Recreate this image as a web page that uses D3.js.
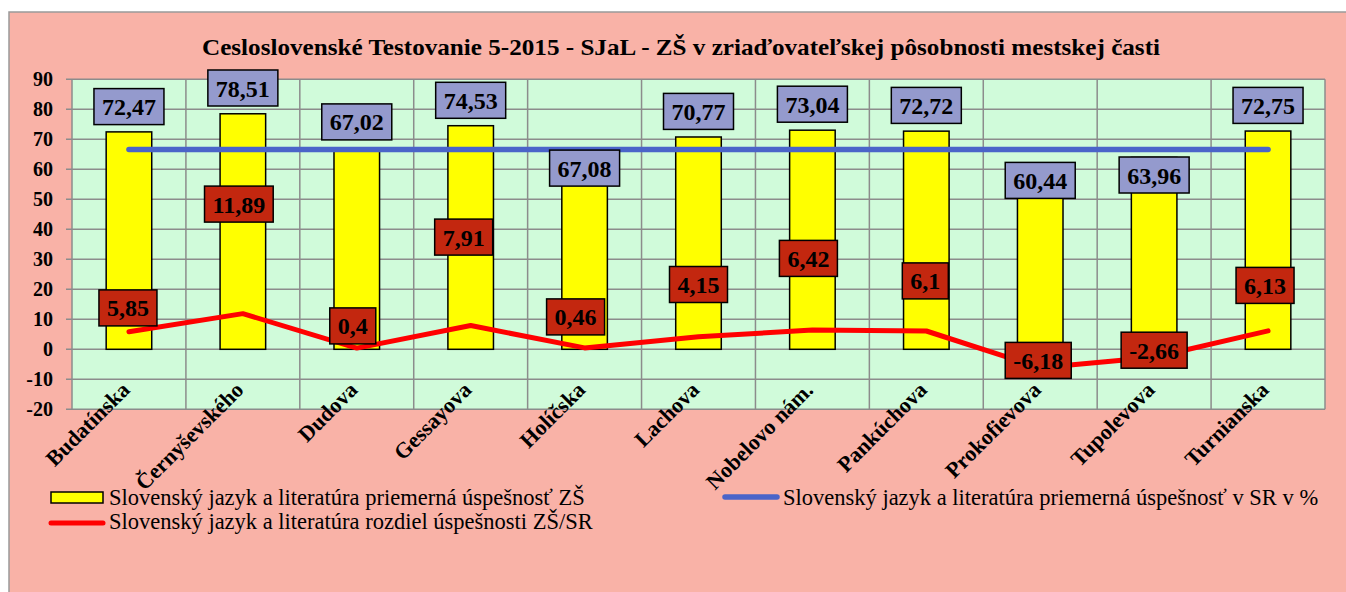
<!DOCTYPE html>
<html>
<head>
<meta charset="utf-8">
<script src="https://cdn.jsdelivr.net/npm/d3@7/dist/d3.min.js"></script>
<style>
	html, body { margin: 0; padding: 0; background: #fff; }
</style>
</head>
<body>
<div id="chart"></div>
<script>
// values
const categories = ["Budatínska", "Černyševského", "Dudova", "Gessayova", "Holíčska", "Lachova",
	"Nobelovo nám.", "Pankúchova", "Prokofievova", "Tupolevova", "Turnianska"];
const schoolAvg = [72.47, 78.51, 67.02, 74.53, 67.08, 70.77, 73.04, 72.72, 60.44, 63.96, 72.75];
const srAvg = [66.62, 66.62, 66.62, 66.62, 66.62, 66.62, 66.62, 66.62, 66.62, 66.62, 66.62];
const diff = [5.85, 11.89, 0.4, 7.91, 0.46, 4.15, 6.42, 6.1, -6.18, -2.66, 6.13];
const yTicks = [-20, -10, 0, 10, 20, 30, 40, 50, 60, 70, 80, 90];

const title = "Cesloslovenské Testovanie 5-2015 - SJaL - ZŠ v zriaďovateľskej pôsobnosti mestskej časti";
const legendNames = [
	"Slovenský jazyk a literatúra priemerná úspešnosť ZŠ",
	"Slovenský jazyk a literatúra rozdiel úspešnosti ZŠ/SR",
	"Slovenský jazyk a literatúra priemerná úspešnosť v SR v %"
];

// where the data labels were dragged to (value units on the y axis)
const avgLabelAt = [80.9, 87.1, 75.8, 83.0, 60.4, 79.3, 81.7, 81.3, 56.3, 58.1, 81.3];
const diffLabelAt = [13.8, 48.4, 7.8, 37.4, 10.8, 21.6, 30.3, 22.8, -3.7, -0.3, 21.3];
const diffLabelDx = [-1, -4, -4, -7, -9, 0, -4, -1, -2, 0, -3];

const FONT = "'Liberation Serif', 'Times New Roman', serif";
const W = 1346, H = 592;
const plot = { left: 72, right: 1325, top: 79.3, bottom: 409.3 };

const svg = d3.select("#chart").append("svg")
	.attr("width", W)
	.attr("height", H)
	.attr("font-family", FONT);

svg.append("rect")
	.attr("x", 9).attr("y", 12)
	.attr("width", W + 10).attr("height", H + 10)
	.attr("fill", "#F9B2A7")
	.attr("stroke", "#9a9a9a")
	.attr("stroke-width", 1.5);

const x = d3.scaleBand()
	.domain(categories)
	.range([plot.left, plot.right])
	.paddingInner(0.6)
	.paddingOuter(0.3);

const y = d3.scaleLinear()
	.domain([-20, 90])
	.range([plot.bottom, plot.top]);

const cx = d => x(d) + x.bandwidth() / 2;

// plot area
svg.append("rect")
	.attr("x", plot.left).attr("y", plot.top)
	.attr("width", plot.right - plot.left).attr("height", plot.bottom - plot.top)
	.attr("fill", "#D0FBDA");

const grid = svg.append("g")
	.attr("stroke", "#8c8c8c")
	.attr("stroke-width", 1.5);

grid.selectAll("line.h")
	.data(yTicks)
	.enter().append("line")
	.attr("class", "h")
	.attr("x1", plot.left - 6).attr("x2", plot.right)
	.attr("y1", d => y(d)).attr("y2", d => y(d));

const step = x.step();
grid.selectAll("line.v")
	.data(d3.range(categories.length + 1))
	.enter().append("line")
	.attr("class", "v")
	.attr("x1", i => plot.left + i * step).attr("x2", i => plot.left + i * step)
	.attr("y1", plot.top).attr("y2", plot.bottom);

// y axis labels
svg.append("g").selectAll("text")
	.data(yTicks)
	.enter().append("text")
	.attr("x", 53)
	.attr("y", d => y(d) + 7)
	.attr("text-anchor", "end")
	.attr("font-size", 20)
	.attr("font-weight", "bold")
	.text(d => d);

// bars
svg.append("g").selectAll("rect")
	.data(schoolAvg)
	.enter().append("rect")
	.attr("x", (d, i) => x(categories[i]))
	.attr("y", d => y(d))
	.attr("width", x.bandwidth())
	.attr("height", d => y(0) - y(d))
	.attr("fill", "#FFFF00")
	.attr("stroke", "#000")
	.attr("stroke-width", 1.5);

// lines
const line = d3.line()
	.x((d, i) => cx(categories[i]))
	.y(d => y(d));

svg.append("path")
	.datum(srAvg)
	.attr("d", line)
	.attr("fill", "none")
	.attr("stroke", "#4A64C9")
	.attr("stroke-width", 5.5)
	.attr("stroke-linecap", "round");

svg.append("path")
	.datum(diff)
	.attr("d", line)
	.attr("fill", "none")
	.attr("stroke", "#FF0000")
	.attr("stroke-width", 5)
	.attr("stroke-linejoin", "round")
	.attr("stroke-linecap", "round");

// boxed data labels
const fmt = v => String(v).replace(".", ",");

function labels(values, at, dx, fill) {
	const g = svg.append("g");
	values.forEach((v, i) => {
		const px = cx(categories[i]) + (dx ? dx[i] : 0);
		const py = y(at[i]);
		const box = g.append("rect");
		const t = g.append("text")
			.attr("x", px)
			.attr("y", py + 8.5)
			.attr("text-anchor", "middle")
			.attr("font-size", 24)
			.attr("font-weight", "bold")
			.text(fmt(v));
		const w = t.node().getComputedTextLength() + 16;
		box.attr("x", px - w / 2)
			.attr("y", py - 18)
			.attr("width", w)
			.attr("height", 36)
			.attr("fill", fill)
			.attr("stroke", "#000")
			.attr("stroke-width", 1.5);
	});
}

labels(schoolAvg, avgLabelAt, null, "#949ACD");
labels(diff, diffLabelAt, diffLabelDx, "#C3270F");

// category labels
svg.append("g").selectAll("text")
	.data(categories)
	.enter().append("text")
	.attr("transform", d => `translate(${cx(d) + 2},${plot.bottom - 18})rotate(-45)`)
	.attr("text-anchor", "end")
	.attr("font-size", 22)
	.attr("font-weight", "bold")
	.text(d => d);

// title
svg.append("text")
	.attr("x", 681)
	.attr("y", 55)
	.attr("text-anchor", "middle")
	.attr("font-size", 23)
	.attr("font-weight", "bold")
	.attr("textLength", 958)
	.attr("lengthAdjust", "spacingAndGlyphs")
	.text(title);

// legend
const leg = svg.append("g").attr("font-size", 22.5);

leg.append("rect")
	.attr("x", 51).attr("y", 492)
	.attr("width", 52).attr("height", 11)
	.attr("fill", "#FFFF00")
	.attr("stroke", "#000")
	.attr("stroke-width", 1.5);
leg.append("text").attr("x", 109).attr("y", 505).text(legendNames[0]);

leg.append("line")
	.attr("x1", 51).attr("x2", 103)
	.attr("y1", 523).attr("y2", 523)
	.attr("stroke", "#FF0000")
	.attr("stroke-width", 5)
	.attr("stroke-linecap", "round");
leg.append("text").attr("x", 109).attr("y", 529).text(legendNames[1]);

leg.append("line")
	.attr("x1", 725).attr("x2", 777)
	.attr("y1", 497).attr("y2", 497)
	.attr("stroke", "#4A64C9")
	.attr("stroke-width", 5.5)
	.attr("stroke-linecap", "round");
leg.append("text").attr("x", 783).attr("y", 505).text(legendNames[2]);
</script>
</body>
</html>
